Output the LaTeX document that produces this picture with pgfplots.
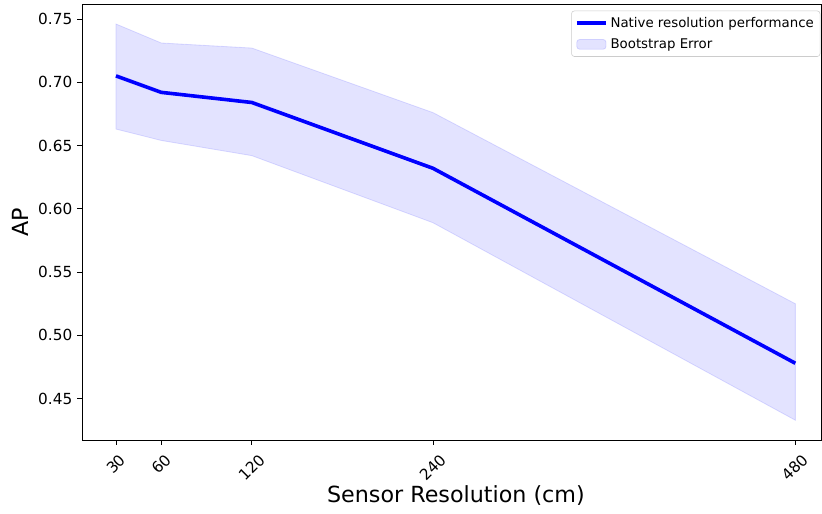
\documentclass[border=0pt]{standalone}
\usepackage{fontspec}
\setmainfont{DejaVu Sans}
\usepackage{graphicx}
\usepackage{pgfplots}
\usepgfplotslibrary{fillbetween}
\pgfplotsset{compat=1.18}

% x: sensor resolution (cm), mean AP, upper and lower bootstrap bounds
\pgfplotstableread{
x    mean   up     lo
30   0.705  0.746  0.663
60   0.692  0.731  0.654
120  0.684  0.727  0.642
240  0.632  0.676  0.589
480  0.478  0.525  0.433
}\aptable

\pgfplotsset{
  bandlegend/.style={legend image code/.code={\draw[##1] (0pt,-3.5pt) rectangle (21pt,3.5pt);}},
  linelegend/.style={legend image code/.code={\draw[##1] (0pt,0pt) -- (21pt,0pt);}},
}

\begin{document}
\begin{tikzpicture}
\begin{axis}[
  scale only axis, width=532.1pt, height=313.9pt,
  xmin=7.5, xmax=497, ymin=0.4174, ymax=0.7618,
  xtick={30,60,120,240,480},
  ytick={0.45,0.50,0.55,0.60,0.65,0.70,0.75},
  xtick pos=bottom, ytick pos=left,
  tick align=outside, major tick length=3.5pt,
  tick style={black, line width=0.6pt},
  axis line style={black, line width=0.6pt},
  /pgf/number format/assume math mode=true,
  ticklabel style={font=\fontsize{11}{13}\selectfont},
  yticklabel style={/pgf/number format/.cd, fixed, fixed zerofill, precision=2},
  xticklabel={\rotatebox{45}{\pgfmathprintnumber{\tick}}},
  xticklabel style={anchor=north, yshift=-2.5pt},
  xlabel={Sensor Resolution (cm)},
  ylabel={AP},
  every axis x label/.style={at={(axis description cs:0.506,-0.1284)}, anchor=center,
    font=\fontsize{16}{19}\selectfont},
  every axis y label/.style={at={(axis description cs:-0.0839,0.5)}, anchor=center, rotate=90,
    font=\fontsize{16}{19}\selectfont},
  legend style={at={(rel axis cs:1,1)}, anchor=north east, xshift=-0.5pt, yshift=-4.8pt,
    draw=black!20, rounded corners=2pt, fill=white, fill opacity=0.8, text opacity=1,
    font=\fontsize{9.6}{11.5}\selectfont, cells={anchor=west}, inner sep=2.5pt, row sep=2.5pt},
  reverse legend,
]
\addplot[name path=up, draw=none, forget plot] table[x=x, y=up] {\aptable};
\addplot[name path=lo, draw=none, forget plot] table[x=x, y=lo] {\aptable};
\addplot[fill=blue, fill opacity=0.11, draw=blue, draw opacity=0.12, line width=0.6pt, bandlegend]
  fill between[of=up and lo];
\addlegendentry{Bootstrap Error}
\addplot[blue, line width=2.6pt, linelegend] table[x=x, y=mean] {\aptable};
\addlegendentry{Native resolution performance}
\end{axis}
\pgfresetboundingbox
\path ([shift={(-59.04pt,-53.28pt)}]current axis.south west) rectangle ([shift={(0.72pt,2.88pt)}]current axis.north east);
\end{tikzpicture}
\end{document}
